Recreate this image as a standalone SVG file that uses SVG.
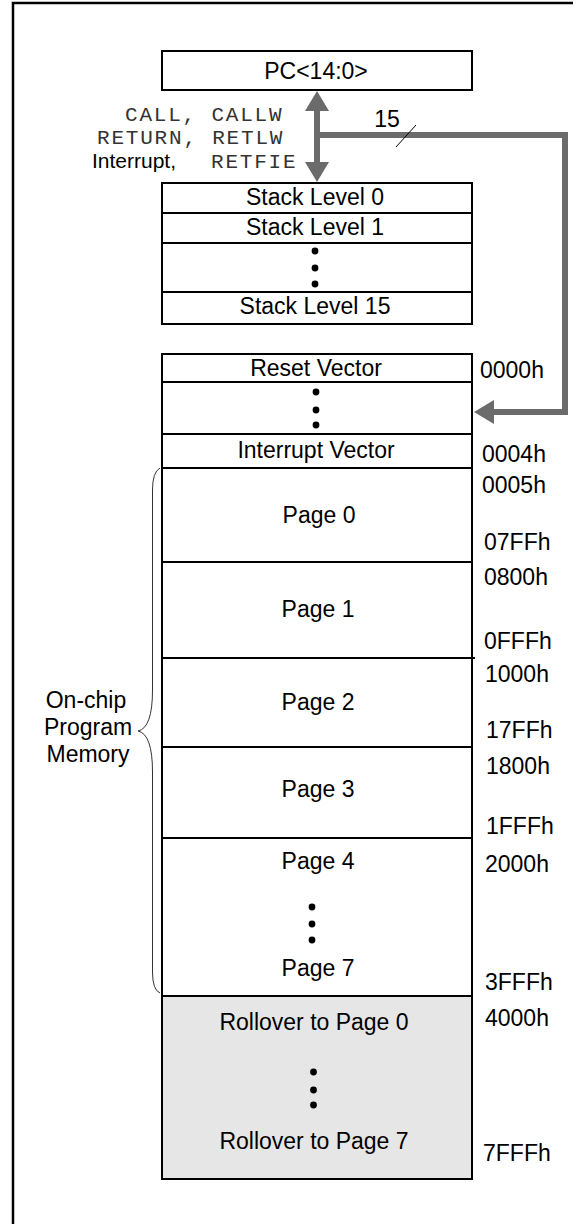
<svg xmlns="http://www.w3.org/2000/svg" width="583" height="1224" viewBox="0 0 583 1224">
<style>
.box{fill:#fff;stroke:#000;stroke-width:2}
.gbox{fill:#e6e6e6;stroke:#000;stroke-width:2}
.sep{stroke:#000;stroke-width:2;fill:none}
.t{font-family:"Liberation Sans",Arial,sans-serif;font-size:23px;fill:#000}
.c{text-anchor:middle}
.m{font-family:"Liberation Mono","Courier New",monospace;font-size:21px;letter-spacing:1.8px;fill:#333}
.bus{fill:none;stroke:#6b6b6b;stroke-width:6;stroke-linejoin:miter}
.dot{fill:#000}
</style>
<defs>
<marker id="ah" markerUnits="userSpaceOnUse" markerWidth="20" markerHeight="24" refX="0" refY="12" orient="auto-start-reverse" viewBox="0 0 20 24">
<path d="M0,0 L20,12 L0,24 z" fill="#6b6b6b"/>
</marker>
</defs>
<rect width="583" height="1224" fill="#fff"/>
<g id="frame">
<path d="M13,1224 V3 H573" fill="none" stroke="#000" stroke-width="2.5"/>
</g>
<g id="connectors">
<line class="bus" x1="317" y1="111" x2="317" y2="162" marker-start="url(#ah)" marker-end="url(#ah)"/>
<path class="bus" d="M317,135 H565 V412 H494" marker-end="url(#ah)"/>
<line x1="396" y1="147" x2="416" y2="125" stroke="#000" stroke-width="1"/>
<text class="t c" x="387" y="127">15</text>
</g>
<g id="labels-ops">
<text class="m" x="125" y="121" xml:space="preserve">CALL, CALLW</text>
<text class="m" x="97" y="144" xml:space="preserve">RETURN, RETLW</text>
<text class="t" x="92" y="168" style="font-size:21px">Interrupt,</text>
<text class="m" x="211" y="168">RETFIE</text>
</g>
<g id="pc">
<rect class="box" x="162" y="51" width="310" height="39"/>
<text class="t c" x="316" y="79">PC&lt;14:0&gt;</text>
</g>
<g id="stack">
<rect class="box" x="162" y="183" width="310" height="141"/>
<line class="sep" x1="162" y1="213" x2="472" y2="213"/>
<line class="sep" x1="162" y1="243" x2="472" y2="243"/>
<line class="sep" x1="162" y1="292" x2="472" y2="292"/>
<text class="t c" x="315" y="205">Stack Level 0</text>
<text class="t c" x="315" y="235">Stack Level 1</text>
<circle class="dot" cx="315" cy="251" r="3.4"/>
<circle class="dot" cx="315" cy="268" r="3.4"/>
<circle class="dot" cx="315" cy="284" r="3.4"/>
<text class="t c" x="315" y="314">Stack Level 15</text>
</g>
<g id="memory">
<rect class="box" x="162" y="354" width="310" height="642"/>
<rect class="gbox" x="162" y="996" width="310" height="183"/>
<line class="sep" x1="162" y1="382" x2="472" y2="382"/>
<line class="sep" x1="162" y1="434" x2="472" y2="434"/>
<line class="sep" x1="162" y1="468" x2="472" y2="468"/>
<line class="sep" x1="162" y1="562" x2="472" y2="562"/>
<line class="sep" x1="162" y1="658" x2="475" y2="658"/>
<line class="sep" x1="162" y1="747" x2="472" y2="747"/>
<line class="sep" x1="162" y1="838" x2="472" y2="838"/>
<text class="t c" x="316" y="376">Reset Vector</text>
<circle class="dot" cx="316" cy="392" r="3.4"/>
<circle class="dot" cx="316" cy="410" r="3.4"/>
<circle class="dot" cx="316" cy="425" r="3.4"/>
<text class="t c" x="316" y="458">Interrupt Vector</text>
<text class="t c" x="319" y="523">Page 0</text>
<text class="t c" x="318" y="617">Page 1</text>
<text class="t c" x="318" y="710">Page 2</text>
<text class="t c" x="318" y="797">Page 3</text>
<text class="t c" x="318" y="869">Page 4</text>
<circle class="dot" cx="312" cy="907" r="3.4"/>
<circle class="dot" cx="312" cy="924" r="3.4"/>
<circle class="dot" cx="312" cy="940" r="3.4"/>
<text class="t c" x="318" y="976">Page 7</text>
<text class="t c" x="314" y="1030">Rollover to Page 0</text>
<circle class="dot" cx="313.5" cy="1072" r="3.4"/>
<circle class="dot" cx="313.5" cy="1090" r="3.4"/>
<circle class="dot" cx="313.5" cy="1105" r="3.4"/>
<text class="t c" x="314" y="1149">Rollover to Page 7</text>
</g>
<g id="addresses">
<text class="t" x="480" y="378">0000h</text>
<text class="t" x="482" y="462">0004h</text>
<text class="t" x="482" y="493">0005h</text>
<text class="t" x="484" y="550">07FFh</text>
<text class="t" x="484" y="585">0800h</text>
<text class="t" x="484" y="649">0FFFh</text>
<text class="t" x="485" y="682">1000h</text>
<text class="t" x="486" y="738">17FFh</text>
<text class="t" x="486" y="774">1800h</text>
<text class="t" x="486" y="834">1FFFh</text>
<text class="t" x="485" y="872">2000h</text>
<text class="t" x="485" y="990">3FFFh</text>
<text class="t" x="485" y="1026">4000h</text>
<text class="t" x="483" y="1161">7FFFh</text>
</g>
<g id="onchip">
<path d="M160,468 Q152.5,472 152.5,490 L152.5,690 Q152.5,728 138,731 Q152.5,734 152.5,772 L152.5,972 Q152.5,990 160,993" fill="none" stroke="#333" stroke-width="1"/>
<text class="t c" x="86" y="708">On-chip</text>
<text class="t c" x="88" y="735">Program</text>
<text class="t c" x="88" y="762">Memory</text>
</g>
</svg>
